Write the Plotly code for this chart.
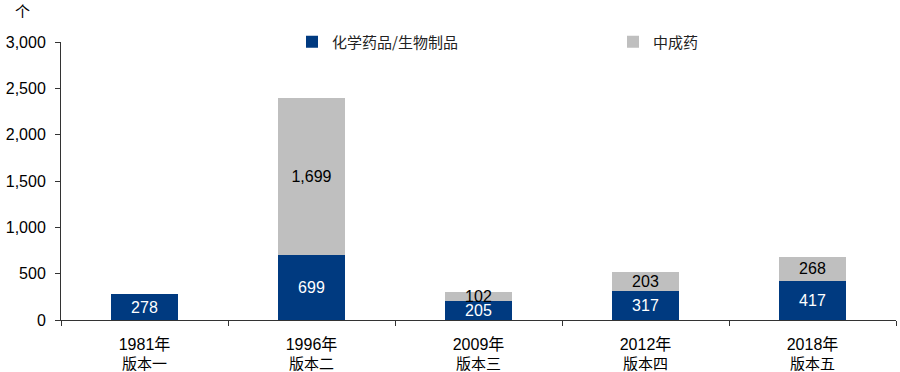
import plotly.graph_objects as go

years = ["1981年", "1996年", "2009年", "2012年", "2018年"]
versions = ["版本一", "版本二", "版本三", "版本四", "版本五"]
chem_bio = [278, 699, 205, 317, 417]
tcm = [None, 1699, 102, 203, 268]
y_ticks = [0, 500, 1000, 1500, 2000, 2500, 3000]

NUM_FONT = "Liberation Sans, Arial, Noto Sans CJK SC"
CJK_FONT = "Noto Sans CJK SC, Liberation Sans"

L, R, T, B = 61, 4, 42, 52
PW = 900 - L - R
PH = 372 - T - B

fig = go.Figure()
fig.add_trace(go.Bar(
    x=years, y=chem_bio, name="化学药品/生物制品",
    marker=dict(color="#003A80", line=dict(width=0)),
    texttemplate="%{y:,}", textposition="inside", insidetextanchor="middle",
    constraintext="none",
    textfont=dict(color="white", size=16, family=NUM_FONT),
    width=0.4, legend="legend",
))
fig.add_trace(go.Bar(
    x=years, y=tcm, name="中成药",
    marker=dict(color="#BFBFBF", line=dict(width=0)),
    texttemplate="%{y:,}", textposition="inside", insidetextanchor="middle",
    constraintext="none",
    textfont=dict(color="black", size=16, family=NUM_FONT),
    width=0.4, legend="legend2",
))

leg_common = dict(
    orientation="h", yanchor="middle", xanchor="left",
    font=dict(size=15, family=CJK_FONT, color="#222"),
    bgcolor="rgba(0,0,0,0)", itemwidth=30,
)

annotations = [dict(
    text="个", x=(22 - L) / PW, y=1 + (T - 10) / PH,
    xref="paper", yref="paper", xanchor="center", yanchor="middle",
    showarrow=False, font=dict(size=15, family=CJK_FONT),
)]
for yr, v in zip(years, versions):
    annotations.append(dict(
        text=v, x=yr, xref="x", y=-(362 - (372 - B)) / PH, yref="paper",
        xanchor="center", yanchor="middle", showarrow=False,
        font=dict(size=15, family=CJK_FONT, color="black"),
    ))

fig.update_layout(
    barmode="stack",
    width=900, height=372,
    margin=dict(l=L, r=R, t=T, b=B, autoexpand=False),
    plot_bgcolor="white", paper_bgcolor="white",
    font=dict(family=NUM_FONT, size=16, color="black"),
    showlegend=True,
    legend=dict(x=(292 - L) / PW, y=1 - (42 - T) / PH, **leg_common),
    legend2=dict(x=(613 - L) / PW, y=1 - (42 - T) / PH, **leg_common),
    annotations=annotations,
)

fig.update_xaxes(
    type="category", showline=True, linecolor="#333", linewidth=1,
    ticks="outside", ticklen=5, tickcolor="#333", tickson="boundaries",
    showgrid=False, tickfont=dict(size=16, family=NUM_FONT),
    automargin=False, ticklabelstandoff=10,
)
fig.update_yaxes(
    range=[0, 3000], tickvals=y_ticks, tickformat=",",
    showline=True, linecolor="#333", linewidth=1,
    ticks="outside", ticklen=5, tickcolor="#333",
    showgrid=False, zeroline=False, ticklabelstandoff=6,
    tickfont=dict(size=16, family=NUM_FONT), automargin=False,
)

fig.write_html(
    "out.html",
    config={"displayModeBar": False},
    post_script="document.body.style.margin='0px';document.body.style.overflow='hidden';",
)
